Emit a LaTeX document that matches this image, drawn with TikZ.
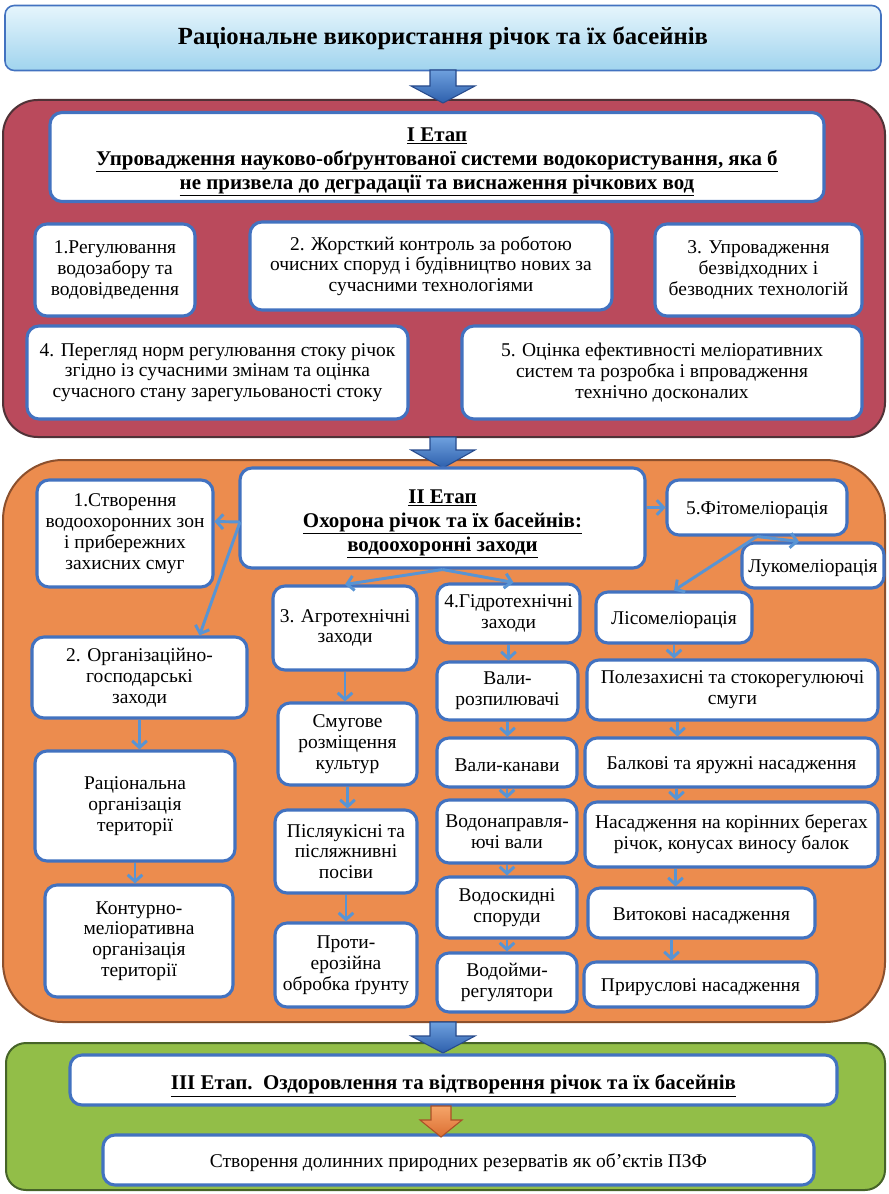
\documentclass[tikz,border=0pt]{standalone}
\usepackage{fontspec}
\setmainfont{Liberation Serif}
\usetikzlibrary{arrows.meta,calc}
\definecolor{bblue}{RGB}{66,114,192}
\definecolor{cblue}{RGB}{88,148,212}
\definecolor{crim}{RGB}{186,74,92}
\definecolor{crimd}{RGB}{80,50,55}
\definecolor{orng}{RGB}{236,140,78}
\definecolor{orngd}{RGB}{140,80,45}
\definecolor{grn}{RGB}{146,190,72}
\definecolor{grnd}{RGB}{70,100,40}
\definecolor{ttop}{RGB}{230,245,252}
\definecolor{tbot}{RGB}{160,212,238}
\definecolor{arrl}{RGB}{110,160,222}
\definecolor{arrd}{RGB}{45,95,172}
\definecolor{arrb}{RGB}{40,75,140}
\definecolor{oarl}{RGB}{245,165,105}
\definecolor{oard}{RGB}{220,110,50}
\definecolor{oarb}{RGB}{170,80,40}
\newcommand\mytxt{\fontsize{14.6}{15.6}\selectfont}
\newcommand\mybold{\fontsize{15.7}{18}\selectfont\bfseries}
\newcommand\mytitle{\fontsize{18.5}{21}\selectfont\bfseries}
\begin{document}
\begin{tikzpicture}[x=0.75pt,y=-0.75pt,
  box/.style 2 args={draw=bblue,line width=2.3pt,fill=white,rounded corners=9pt,
    minimum width=#1*0.75pt,minimum height=#2*0.75pt,align=center,inner sep=1pt,font=\mytxt,
    execute at begin node={\rule{0pt}{14pt}}},
  hbox/.style 2 args={box={#1}{#2},font=\mybold,execute at begin node={\rule{0pt}{20pt}}},
  htext/.style={align=center,font=\mybold,inner sep=0pt},
  conn/.style={draw=cblue,line width=2.2pt,-{Straight Barb[length=5pt,width=11pt]}},
  barrow/.style={draw=arrb,line width=0.8pt,top color=arrl,bottom color=arrd},
  oarrow/.style={draw=oarb,line width=0.8pt,top color=oarl,bottom color=oard}]
\fill[white] (0,0) rectangle (888,1194);
\useasboundingbox (0,0) rectangle (888,1194);

% panels
\draw[draw=crimd,line width=1.5pt,fill=crim,rounded corners=26pt] (3,100) rectangle (885,437);
\draw[draw=orngd,line width=1.5pt,fill=orng,rounded corners=45pt] (3,460) rectangle (885,1022);
\draw[draw=grnd,line width=1.5pt,fill=grn,rounded corners=15pt] (6,1043) rectangle (885,1190);

% title
\node[draw=bblue,line width=1.2pt,rounded corners=7pt,top color=ttop,bottom color=tbot,
  minimum width=876*0.75pt,minimum height=65*0.75pt,font=\mytitle] (title) at (443,38)
  {Раціональне використання річок та їх басейнів};

% block arrows
\draw[barrow] (430,70)--(456,70)--(456,86)--(475,86)--(443,103)--(411,86)--(430,86)--cycle;
\draw[barrow] (430,437)--(456,437)--(456,450)--(475,450)--(443,468)--(411,450)--(430,450)--cycle;
\draw[barrow] (430,1022)--(456,1022)--(456,1036)--(475,1036)--(443,1053)--(411,1036)--(430,1036)--cycle;

% Stage I
\node[box={774}{89}] (h1) at (437,157) {};
\node[htext] (h1t) at (437,162)
  {\underline{I Етап}\\ \underline{Упровадження науково-обґрунтованої системи водокористування, яка б}\\ \underline{не призвела до деградації та виснаження річкових вод}};
\node[box={160}{92}] (b1) at (115,270) {1.Регулювання\\водозабору та\\водовідведення};
\node[box={362}{88}] (b2) at (431,266) {2. Жорсткий контроль за роботою\\очисних споруд і будівництво нових за\\сучасними технологіями};
\node[box={207}{92}] (b3) at (758.5,270) {3. Упровадження\\безвідходних і\\безводних технологій};
\node[box={381}{93}] (b4) at (217.5,372.5) {4. Перегляд норм регулювання стоку річок\\згідно із сучасними змінам та оцінка\\сучасного стану зарегульованості стоку};
\node[box={400}{93}] (b5) at (662,372.5) {5. Оцінка ефективності меліоративних\\систем та розробка і впровадження\\технічно досконалих};

% Stage II
\node[box={405}{100}] (h2) at (442.5,518) {};
\node[htext] (h2t) at (442.5,524) {\underline{II Етап}\\\underline{Охорона річок та їх басейнів:}\\\underline{водоохоронні заходи}};
\node[box={176}{107}] (n1) at (125,533.5) {1.Створення\\водоохоронних зон\\і прибережних\\захисних смуг};
\node[box={215}{81}] (n2) at (139.5,677.5) {2. Організаційно-\\господарські\\заходи};
\node[box={200}{110}] (r1) at (135,806) {Раціональна\\організація\\території};
\node[box={188}{112}] (r2) at (139,941) {Контурно-\\меліоративна\\організація\\території};
\node[box={144}{84}] (n3) at (345,628) {3. Агротехнічні\\заходи};
\node[box={139}{82}] (a1) at (347.5,744) {Смугове\\розміщення\\культур};
\node[box={142}{83}] (a2) at (346,851.5) {Післяукісні та\\післяжнивні\\посіви};
\node[box={142}{84}] (a3) at (346,965) {Проти-\\ерозійна\\обробка ґрунту};
\node[box={143}{59}] (n4) at (508.5,613.5) {4.Гідротехнічні\\заходи};
\node[box={141}{58}] (g1) at (507.5,691) {Вали-\\розпилювачі};
\node[box={140}{49}] (g2) at (507,762.5) {Вали-канави};
\node[box={140}{63}] (g3) at (507,831.5) {Водонаправля-\\ючі вали};
\node[box={140}{61}] (g4) at (507,907.5) {Водоскидні\\споруди};
\node[box={140}{59}] (g5) at (507,982.5) {Водойми-\\регулятори};
\node[box={180}{55}] (n5) at (757,507.5) {5.Фітомеліорація};
\node[box={142}{45}] (luk) at (813,565.5) {Лукомеліорація};
\node[box={156}{51}] (lis) at (674,617.5) {Лісомеліорація};
\node[box={291}{60}] (f1) at (732.5,690) {Полезахисні та стокорегулюючі\\смуги};
\node[box={293}{49}] (f2) at (731.5,762.5) {Балкові та яружні насадження};
\node[box={293}{65}] (f3) at (731.5,834.5) {Насадження на корінних берегах\\річок, конусах виносу балок};
\node[box={227}{50}] (f4) at (701.5,913) {Витокові насадження};
\node[box={233}{45}] (f5) at (700.5,984.5) {Прируслові насадження};

% Stage II connectors
\coordinate (hL) at (240,522);
\coordinate (t1) at ($(n1.east)+(0,-12)$);
\coordinate (t2) at ($(n2.north)+(60,0)$);
\coordinate (t4) at ($(n4.north)+(5,0)$);
\coordinate (tl) at ($(luk.north)+(-14,0)$);
\coordinate (s1) at ($(f1.south)+(-55,0)$);
\coordinate (s2) at ($(f2.south)+(-55,0)$);
\coordinate (s3) at ($(f3.south)+(-56,0)$);
\coordinate (s4) at ($(f4.south)+(-30,0)$);
\draw[conn] (hL) -- (t1);
\draw[conn] (hL) -- (t2);
\draw[conn] (h2.south) -- (n3.north);
\draw[conn] (h2.south) -- (t4);
\draw[conn] (h2.east |- n5.west) -- (n5.west);
\draw[conn] (n5.south) -- (tl);
\draw[conn] (n5.south) -- (lis.north);
\draw[conn] (n2.south) -- (n2.south |- r1.north);
\draw[conn] (r1.south) -- (r1.south |- r2.north);
\draw[conn] (n3.south) -- (n3.south |- a1.north);
\draw[conn] (a1.south) -- (a1.south |- a2.north);
\draw[conn] (a2.south) -- (a2.south |- a3.north);
\draw[conn] (n4.south) -- (n4.south |- g1.north);
\draw[conn] (g1.south) -- (g1.south |- g2.north);
\draw[conn] (g2.south) -- (g2.south |- g3.north);
\draw[conn] (g3.south) -- (g3.south |- g4.north);
\draw[conn] (g4.south) -- (g4.south |- g5.north);
\draw[conn] (lis.south) -- (lis.south |- f1.north);
\draw[conn] (s1) -- (s1 |- f2.north);
\draw[conn] (s2) -- (s2 |- f3.north);
\draw[conn] (s3) -- (s3 |- f4.north);
\draw[conn] (s4) -- (s4 |- f5.north);

% Stage III
\node[hbox={767}{50}] (h3) at (453.5,1080) {\underline{III Етап.\ \ Оздоровлення та відтворення річок та їх басейнів}};
\node[box={711}{50}] (b6) at (458.5,1160) {Створення долинних природних резерватів як об’єктів ПЗФ};
\draw[oarrow] (431,1106)--(451,1106)--(451,1120)--(462,1120)--(441,1137)--(420,1120)--(431,1120)--cycle;
\end{tikzpicture}
\end{document}
